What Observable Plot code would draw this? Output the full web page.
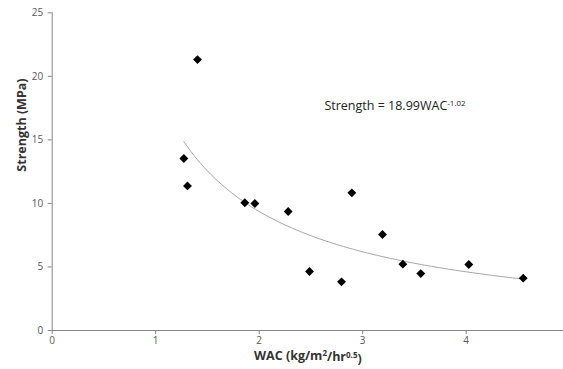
<!DOCTYPE html>
<html>
<head>
<meta charset="utf-8">
<script src="https://cdn.jsdelivr.net/npm/d3@7"></script>
<script src="https://cdn.jsdelivr.net/npm/@observablehq/plot@0.6"></script>
<style>
  html, body { margin: 0; padding: 0; background: #fff; }
  #chart svg { display: block; }
</style>
</head>
<body>
<div id="chart"></div>
<script>
// Data
const wac = [1.404, 1.272, 1.307, 1.861, 1.958, 2.280, 2.486, 2.795, 2.895, 3.191, 3.388, 3.561, 4.025, 4.551];
const strength = [21.32, 13.53, 11.38, 10.05, 9.99, 9.36, 4.64, 3.83, 10.83, 7.55, 5.22, 4.48, 5.19, 4.12];
const xTicks = [0, 1, 2, 3, 4];
const yTicks = [0, 5, 10, 15, 20, 25];
// Power trendline shown in the chart: Strength = 18.99 WAC^-1.02
const trendCoef = 18.99;
const trendExp = -1.02;

const points = wac.map((x, i) => ({x, y: strength[i]}));
const xMin = d3.min(wac), xMax = d3.max(wac);
const trend = d3.range(0, 101).map(i => {
  const x = xMin + (xMax - xMin) * i / 100;
  return {x, y: trendCoef * Math.pow(x, trendExp)};
});

const axisGray = "#868686";
const labelGray = "#595959";
const font = "Open Sans, Liberation Sans, sans-serif";

const plot = Plot.plot({
  width: 563,
  height: 369,
  marginLeft: 51.7,
  marginRight: 0,
  marginTop: 12.3,
  marginBottom: 39,
  style: {fontFamily: font, fontSize: "10px", color: labelGray, background: "#fff"},
  x: {domain: [0, 4.94]},
  y: {domain: [0, 25]},
  marks: [
    Plot.axisX({ticks: xTicks, tickFormat: d3.format("d"), tickSize: 4, tickPadding: 2, stroke: axisGray, fill: labelGray, label: null, fontSize: 10}),
    Plot.axisY({ticks: yTicks, tickFormat: d3.format("d"), tickSize: 4, tickPadding: 5, stroke: axisGray, fill: labelGray, label: null, fontSize: 10}),
    Plot.ruleY([0], {stroke: axisGray}),
    Plot.ruleX([0], {stroke: axisGray}),
    Plot.line(trend, {x: "x", y: "y", stroke: "#a6a6a6", strokeWidth: 1}),
    Plot.dot(points, {x: "x", y: "y", symbol: "diamond2", fill: "black", stroke: "none", r: 4}),
    Plot.text(["Strength = 18.99WAC"], {x: 2.63, y: 17.7, text: d => d, textAnchor: "start", fontSize: 12.5, fill: "#222"}),
    Plot.text(["Strength (MPa)"], {frameAnchor: "left", dx: -30, rotate: -90, text: d => d, fontWeight: "bold", fontSize: 12.5, fill: "#333"}),
    Plot.text(["WAC (kg/m2/hr0.5)"], {frameAnchor: "bottom", dy: 29, text: d => d, fontWeight: "bold", fontSize: 12.5, fill: "#333"})
  ]
});

const svg = d3.select(plot);
// superscripts
svg.selectAll("text").each(function() {
  const t = d3.select(this);
  const s = this.textContent;
  if (s === "Strength = 18.99WAC") {
    t.text("Strength = 18.99WAC");
    t.append("tspan").attr("dy", "-0.45em").attr("font-size", "8px").text("-1.02");
  } else if (s === "WAC (kg/m2/hr0.5)") {
    t.text("WAC (kg/m");
    t.append("tspan").attr("dy", "-0.4em").attr("font-size", "8px").text("2");
    t.append("tspan").attr("dy", "0.4em").text("/hr");
    t.append("tspan").attr("dy", "-0.4em").attr("font-size", "8px").text("0.5");
    t.append("tspan").attr("dy", "0.4em").text(")");
  }
});

document.getElementById("chart").appendChild(plot);
</script>
</body>
</html>
